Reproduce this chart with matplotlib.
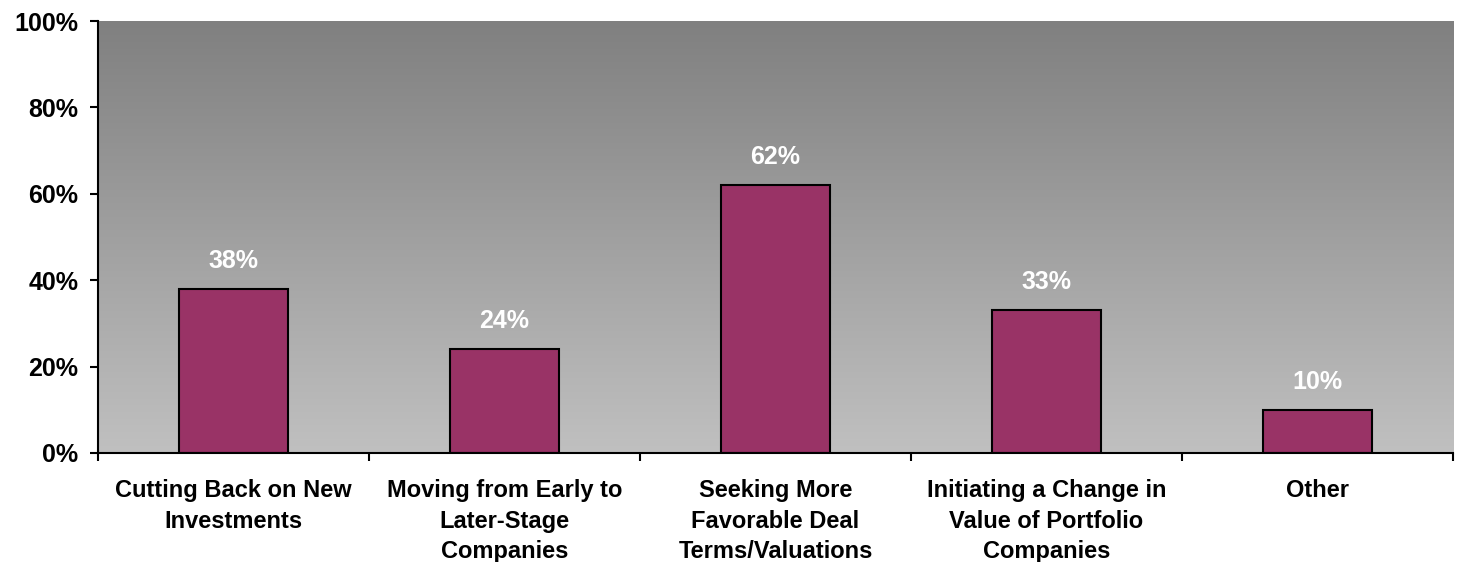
import matplotlib
matplotlib.use("Agg")
import matplotlib.pyplot as plt
import numpy as np

categories = [
    "Cutting Back on New\nInvestments",
    "Moving from Early to\nLater-Stage\nCompanies",
    "Seeking More\nFavorable Deal\nTerms/Valuations",
    "Initiating a Change in\nValue of Portfolio\nCompanies",
    "Other",
]
values = [38, 24, 62, 33, 10]
yticks = [0, 20, 40, 60, 80, 100]

plt.rcParams["font.family"] = ["Liberation Sans", "DejaVu Sans"]
plt.rcParams["font.weight"] = "bold"

fig = plt.figure(figsize=(14.6, 5.62), dpi=100)
ax = fig.add_axes([0.0671, 0.194, 0.9281, 0.7686])

n = len(categories)
x = np.arange(n)
ax.set_xlim(-0.5, n - 0.5)
ax.set_ylim(0, 100)

# gradient background: dark gray at top, light gray at bottom
grad = np.linspace(0, 1, 256).reshape(-1, 1)
cmap = matplotlib.colors.LinearSegmentedColormap.from_list("bg", ["#c0c0c0", "#808080"])
ax.imshow(grad, origin="lower", extent=(-0.5, n - 0.5, 0, 100), aspect="auto",
          cmap=cmap, zorder=0)

ax.bar(x, values, width=0.4, color="#993366", edgecolor="black", linewidth=1.5, zorder=2)
for xi, v in zip(x, values):
    ax.text(xi, v + 6.5, f"{v}%", ha="center", va="center", color="white",
            fontsize=18, fontweight="bold", zorder=3)

ax.set_yticks(yticks)
ax.set_yticklabels([f"{t}%" for t in yticks], fontsize=18, fontweight="bold")
ax.set_xticks(np.arange(n + 1) - 0.5, minor=False)
ax.set_xticklabels([""] * (n + 1))
ax.set_xticks(x, minor=True)
ax.set_xticklabels(categories, minor=True, fontsize=17, fontweight="bold",
                   linespacing=1.4)
ax.tick_params(axis="x", which="minor", length=0, pad=19)
ax.tick_params(axis="x", which="major", length=6, width=1.5, direction="out")
ax.tick_params(axis="y", length=6, width=1.5, direction="out", pad=8)

for s in ["top", "right"]:
    ax.spines[s].set_visible(False)
for s in ["left", "bottom"]:
    ax.spines[s].set_linewidth(1.5)

fig.savefig("out.png", dpi=100)
